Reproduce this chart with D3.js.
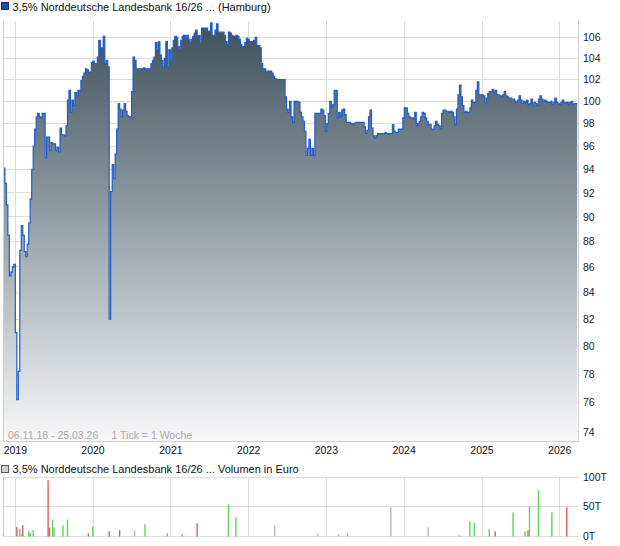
<!DOCTYPE html>
<html><head><meta charset="utf-8">
<script src="https://cdn.jsdelivr.net/npm/d3@7"></script>
<style>
body{margin:0;background:#fff;}
svg{display:block;font-family:"Liberation Sans",Arial,sans-serif;}
</style></head><body>
<svg id="c" width="620" height="546"></svg>
<script>
// ---- data ----
const titleText = "3,5% Norddeutsche Landesbank 16/26 ... (Hamburg)";
const volumeTitle = "3,5% Norddeutsche Landesbank 16/26 ... Volumen in Euro";
const rangeText = "06.11.18 - 25.03.26";
const tickText = "1 Tick = 1 Woche";
const startDate = "2018-11-06";
const endDate = "2026-03-25";
const yearTicks = [2019, 2020, 2021, 2022, 2023, 2024, 2025, 2026];
const priceTicks = [74, 76, 78, 80, 82, 84, 86, 88, 90, 92, 94, 96, 98, 100, 102, 104, 106];
const volTicks = [0, 50, 100];
const volTickLabels = ["0T", "50T", "100T"];
// weekly closing prices (one per week from startDate)
const priceValues = [
94.1, 92.8, 91.0, 88.5, 85.3, 85.6, 86.0, 86.2, 81.0, 76.2,
78.2, 87.3, 89.3, 88.5, 87.2, 86.8, 87.8, 89.5, 91.5, 94.0,
96.0, 97.5, 98.6, 98.9, 98.6, 98.5, 98.9, 98.9, 95.0, 96.8,
96.8, 95.6, 96.3, 96.2, 96.2, 95.6, 95.9, 95.5, 97.6, 97.0,
97.0, 96.9, 97.8, 100.1, 101.0, 99.0, 100.1, 99.6, 100.8, 100.5,
101.0, 101.0, 101.9, 102.3, 102.6, 103.0, 102.9, 102.7, 102.7, 103.6,
103.7, 103.5, 103.5, 104.1, 105.7, 104.9, 105.0, 106.1, 103.5, 103.8,
103.2, 82.0, 92.1, 94.4, 93.2, 95.3, 97.5, 99.8, 99.3, 98.6,
99.2, 99.8, 99.1, 98.7, 98.6, 98.6, 100.9, 104.1, 103.8, 103.0,
103.0, 103.0, 103.0, 103.0, 103.1, 103.0, 103.0, 103.0, 103.0, 103.5,
103.8, 104.1, 105.5, 104.8, 105.6, 104.3, 103.8, 103.2, 104.0, 105.6,
103.2, 104.8, 103.8, 105.0, 105.7, 106.1, 106.0, 105.1, 104.8, 105.7,
106.1, 106.2, 105.9, 106.2, 105.8, 105.5, 105.8, 106.1, 106.4, 106.7,
106.1, 106.2, 105.4, 106.9, 106.9, 106.9, 106.9, 106.6, 106.6, 107.4,
106.2, 106.2, 106.7, 107.3, 106.5, 106.5, 106.5, 106.5, 106.2, 105.6,
105.3, 106.5, 106.4, 106.2, 106.1, 106.1, 106.2, 106.1, 105.8, 105.3,
105.1, 105.1, 105.5, 105.9, 105.8, 105.6, 105.6, 105.6, 105.7, 106.0,
105.2, 105.2, 105.0, 103.5, 103.0, 103.0, 102.7, 102.8, 102.8, 102.8,
102.6, 102.3, 102.1, 102.0, 102.0, 102.0, 102.0, 102.0, 102.0, 100.4,
99.3, 99.0, 100.0, 98.6, 98.1, 100.0, 100.0, 100.0, 99.9, 99.0,
98.6, 98.2, 97.3, 95.2, 95.8, 96.6, 95.2, 95.8, 95.2, 98.9,
98.9, 98.9, 98.9, 99.3, 99.2, 98.7, 97.3, 98.0, 98.9, 100.0,
99.5, 99.7, 101.0, 101.0, 98.5, 99.0, 98.6, 99.2, 99.3, 98.8,
98.1, 98.1, 98.1, 98.0, 97.9, 98.0, 98.1, 98.1, 98.1, 98.1,
98.1, 98.1, 97.7, 97.1, 97.4, 98.6, 99.2, 97.6, 96.9, 96.7,
96.9, 97.1, 97.1, 97.1, 97.1, 97.1, 97.2, 97.1, 97.1, 97.1,
97.1, 97.9, 97.3, 97.2, 97.2, 97.5, 97.5, 97.5, 98.5, 99.4,
99.4, 98.9, 98.6, 98.5, 98.5, 98.4, 99.0, 97.8, 98.0, 98.2,
98.6, 99.0, 98.9, 98.5, 98.2, 97.9, 97.9, 97.5, 97.5, 97.8,
98.2, 97.9, 97.8, 97.5, 98.9, 99.2, 99.2, 99.1, 99.1, 99.0,
99.1, 99.0, 98.6, 97.9, 99.3, 100.6, 101.5, 100.4, 99.6, 99.0,
99.1, 99.0, 99.0, 99.4, 100.1, 99.9, 99.9, 101.0, 101.8, 100.6,
100.6, 100.6, 100.5, 99.9, 100.3, 100.7, 100.9, 100.9, 101.1, 100.8,
101.0, 100.6, 100.6, 100.5, 100.4, 100.6, 100.9, 100.5, 100.4, 100.3,
100.3, 100.2, 100.2, 100.0, 99.9, 100.1, 100.5, 100.1, 99.8, 100.0,
99.9, 100.1, 99.7, 99.8, 100.2, 99.6, 99.9, 99.8, 99.6, 100.2,
100.5, 100.2, 100.0, 100.1, 100.0, 99.9, 99.9, 100.0, 99.7, 99.9,
100.3, 99.9, 99.8, 99.7, 99.9, 100.1, 99.9, 99.8, 99.9, 99.7,
99.9, 100.0, 99.7, 99.8, 99.8, 99.8
];
// weekly volume (thousand EUR), week index from startDate
const volWeeks  = [0, 9, 11, 12, 13, 17, 18, 20, 30, 31, 33, 34, 40, 43, 57, 60, 71, 78, 88, 95, 110, 120, 130, 151, 156, 182, 211, 225, 231, 260, 285, 306, 313, 316, 326, 330, 342, 350, 352, 353, 359, 368, 378];
const volValues = [6, 16, 13, 4, 19, 9, 6, 11, 94.5, 15, 28.5, 15, 19, 28.5, 5.6, 17, 9, 10.6, 10.6, 20.7, 5.6, 4, 22.4, 54, 32.4, 19, 5.6, 4, 5.6, 49, 15.7, 2.2, 25.7, 23, 12.3, 9, 40.8, 9, 10.6, 50.8, 77.7, 40.8, 49];
const volDirection = ["flat","down","up","flat","down","up","up","up","down","down","up","up","up","up","down","up","down","down","flat","up","up","up","down","up","up","flat","flat","flat","flat","flat","flat","up","up","up","up","down","up","up","down","up","up","up","down"];

// ---- drawing ----
const svg = d3.select("#c");
const parse = d3.utcParse("%Y-%m-%d");
const t0 = parse(startDate);
const dates = priceValues.map((v, i) => d3.utcDay.offset(t0, 7 * i));
const priceData = priceValues.map((v, i) => ({date: dates[i], value: v}));

const L = 3.5, R = 578.5;
const x = d3.scaleUtc().domain([t0, parse(endDate)]).range([3.4, 577.4]);
const pTop = 21, pBot = 441.5;
const y = d3.scaleLog().domain([73.39, 107.59]).range([441, 21]);
const vTop = 477, vBot = 536.5;
const yv = d3.scaleLinear().domain([0, 100]).range([536.5, 477]);

const gridColor = "#dcdcdc";
const crisp = v => Math.round(v) + 0.5;

// gradient
const defs = svg.append("defs");
const grad = defs.append("linearGradient").attr("id", "g")
  .attr("gradientUnits", "userSpaceOnUse")
  .attr("x1", 0).attr("x2", 0).attr("y1", pTop).attr("y2", pBot);
grad.append("stop").attr("offset", 0).attr("stop-color", "#3e4f5b");
grad.append("stop").attr("offset", 0.5).attr("stop-color", "#98a4ab");
grad.append("stop").attr("offset", 1).attr("stop-color", "#f8f8f9");

// main grid
const main = svg.append("g");
main.selectAll("line.hg").data(priceTicks).join("line")
  .attr("x1", L).attr("x2", R)
  .attr("y1", d => crisp(y(d) - 0.5)).attr("y2", d => crisp(y(d) - 0.5))
  .attr("stroke", gridColor);
main.selectAll("line.vg").data(yearTicks).join("line")
  .attr("x1", d => crisp(x(Date.UTC(d, 0, 1)) - 0.5)).attr("x2", d => crisp(x(Date.UTC(d, 0, 1)) - 0.5))
  .attr("y1", pTop).attr("y2", pBot)
  .attr("stroke", gridColor);

// area + line
const area = d3.area().curve(d3.curveStepAfter)
  .x(d => x(d.date)).y0(pBot).y1(d => y(d.value));
main.append("path").datum(priceData).attr("d", area).attr("fill", "url(#g)");
const line = d3.line().curve(d3.curveStepAfter)
  .x(d => x(d.date)).y(d => y(d.value));
main.append("path").datum(priceData).attr("d", line)
  .attr("fill", "none").attr("stroke", "#1f5ccc").attr("stroke-width", 1.2);

// frame
main.append("line").attr("x1", L).attr("x2", L).attr("y1", pTop).attr("y2", pBot).attr("stroke", "#cfcfcf");
main.append("line").attr("x1", R).attr("x2", R).attr("y1", pTop).attr("y2", pBot).attr("stroke", "#cfcfcf");
main.append("line").attr("x1", L).attr("x2", R).attr("y1", pBot).attr("y2", pBot).attr("stroke", "#cfcfcf");

// y labels
main.selectAll("text.yl").data(priceTicks).join("text")
  .attr("x", 583).attr("y", d => y(d) + 3.7)
  .attr("font-size", 10.5).attr("fill", "#222").text(d => d);

// x labels
main.selectAll("text.xl").data(yearTicks).join("text")
  .attr("x", d => x(Date.UTC(d, 0, 1))).attr("y", 453.5)
  .attr("text-anchor", "middle").attr("font-size", 10.5).attr("fill", "#111").text(d => d);

// range text
main.append("text").attr("x", 8).attr("y", 439).attr("font-size", 10.5).attr("fill", "#a9a9a9").text(rangeText);
main.append("text").attr("x", 111.5).attr("y", 439).attr("font-size", 10.5).attr("fill", "#a9a9a9").text(tickText);

// title
svg.append("rect").attr("x", 1.5).attr("y", 2.5).attr("width", 7).attr("height", 7)
  .attr("fill", "#1a4fb4").attr("stroke", "#1b2a55");
svg.append("text").attr("x", 12.5).attr("y", 10.8).attr("font-size", 11).attr("fill", "#111").text(titleText);

// volume legend
svg.append("rect").attr("x", 1.5).attr("y", 465.5).attr("width", 7).attr("height", 7)
  .attr("fill", "#cfcfcf").attr("stroke", "#555");
svg.append("text").attr("x", 12.5).attr("y", 472.8).attr("font-size", 11).attr("fill", "#111").text(volumeTitle);

// volume grid
const vol = svg.append("g");
vol.selectAll("line.hg").data(volTicks).join("line")
  .attr("x1", L).attr("x2", R)
  .attr("y1", d => crisp(yv(d) - 0.5)).attr("y2", d => crisp(yv(d) - 0.5))
  .attr("stroke", gridColor);
vol.selectAll("line.vg").data(yearTicks).join("line")
  .attr("x1", d => crisp(x(Date.UTC(d, 0, 1)) - 0.5)).attr("x2", d => crisp(x(Date.UTC(d, 0, 1)) - 0.5))
  .attr("y1", vTop).attr("y2", vBot)
  .attr("stroke", gridColor);
vol.append("line").attr("x1", L).attr("x2", L).attr("y1", vTop).attr("y2", vBot).attr("stroke", "#cfcfcf");

const volColor = {up: "#5dd35a", down: "#dc5e5e", flat: "#b9b9b9"};
const volData = volWeeks.map((w, i) => ({date: d3.utcDay.offset(t0, 7 * w), value: volValues[i], dir: volDirection[i]}));
vol.selectAll("line.bar").data(volData).join("line")
  .attr("x1", d => x(d.date)).attr("x2", d => x(d.date))
  .attr("y1", yv(0)).attr("y2", d => yv(d.value))
  .attr("stroke", d => volColor[d.dir]).attr("stroke-width", 1.4);

vol.selectAll("text.yl").data(volTicks).join("text")
  .attr("x", 583).attr("y", d => yv(d) + 3.7)
  .attr("font-size", 10.5).attr("fill", "#222").text((d, i) => volTickLabels[i]);
</script>
</body></html>
